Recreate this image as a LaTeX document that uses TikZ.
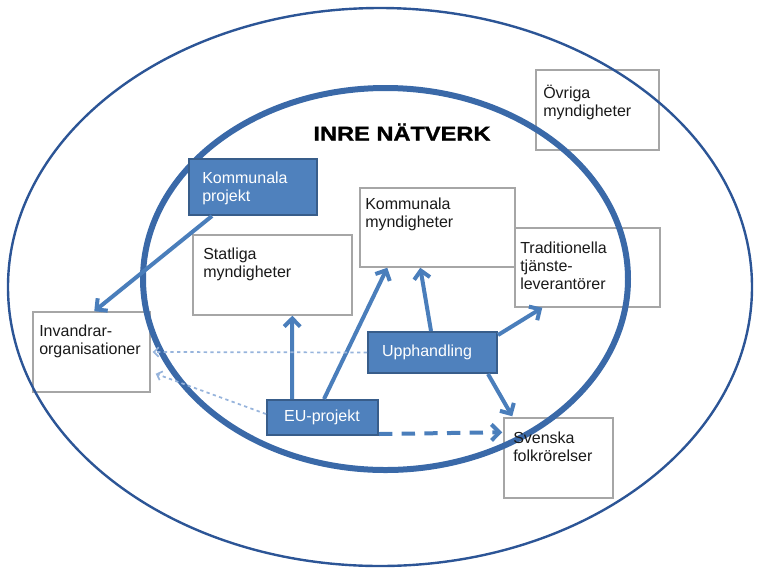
\documentclass[tikz,border=0pt]{standalone}
\usepackage{fontspec}
\setmainfont{Liberation Sans}
\newfontfamily\titlefont[FakeBold=1.2]{Liberation Sans Bold}
\usepackage{graphicx}
\usetikzlibrary{arrows.meta,calc}
\definecolor{boxgray}{HTML}{A6A6A6}
\definecolor{fillblue}{HTML}{4F81BD}
\definecolor{fillborder}{HTML}{385D8A}
\definecolor{arrowblue}{HTML}{4A7EBB}
\definecolor{innerblue}{HTML}{3A69A8}
\definecolor{outerblue}{HTML}{2C5596}
\definecolor{dotblue}{HTML}{97B4DC}
\definecolor{txt}{HTML}{1A1A1A}
\tikzset{
  wbox/.style={draw=boxgray, line width=1.1pt, fill=white, inner sep=0pt},
  bbox/.style={draw=fillborder, line width=1.5pt, fill=fillblue, inner sep=0pt},
  lbl/.style={anchor=north west, align=left, inner sep=0pt, text=txt,
    font=\fontsize{12}{13.5}\selectfont},
  wlbl/.style={lbl, text=white},
  clbl/.style={anchor=center, inner sep=0pt, text=white,
    font=\fontsize{12}{13.5}\selectfont},
  conn/.style={draw=arrowblue, line width=3pt, -{Straight Barb[length=6pt,width=12pt]}},
  dconn/.style={conn, dash pattern=on 10pt off 7pt},
  dotconn/.style={draw=dotblue, line width=1.3pt, dash pattern=on 2.5pt off 2.5pt,
    -{Straight Barb[length=3.5pt,width=7pt]}},
}
\begin{document}
\begin{tikzpicture}[x=0.75pt,y=-0.75pt]
\useasboundingbox (0,0) rectangle (757,569);
% boxes
\node[wbox, minimum width=92.25pt, minimum height=60pt] (ovr) at (597.5,110) {};
\node[wbox, minimum width=119.25pt, minimum height=60pt] (stat) at (272.5,275) {};
\node[wbox, minimum width=116.25pt, minimum height=59.25pt] (kmyn) at (437.5,227.5) {};
\node[wbox, minimum width=108.75pt, minimum height=59.25pt] (trad) at (587.5,267.5) {};
\node[wbox, minimum width=87.75pt, minimum height=60pt] (inv) at (91.5,352) {};
\node[wbox, minimum width=81.75pt, minimum height=60pt] (sv) at (558.5,458) {};
% circles
\draw[outerblue, line width=1.8pt] (380,287) ellipse [x radius=372, y radius=279];
\draw[innerblue, line width=4.5pt] (385.5,279) ellipse [x radius=242.5, y radius=191];
% filled boxes
\node[bbox, minimum width=96pt, minimum height=42pt] (kproj) at (253,187) {};
\node[bbox, minimum width=96.75pt, minimum height=30.75pt] (upph) at (432.5,352.5) {};
\node[bbox, minimum width=83.25pt, minimum height=26.25pt] (eu) at (322.5,417.5) {};
% title
\node[inner sep=0pt, font=\titlefont\fontsize{15}{18}\selectfont, text=black] (title) at (402,132) {\scalebox{1.18}[1]{INRE NÄTVERK}};
% labels
\node[lbl] (ovrT) at (543,85) {Övriga\\myndigheter};
\node[wlbl] (kprojT) at (202,172) {Kommunala\\projekt};
\node[lbl] (statT) at (203,248) {Statliga\\myndigheter};
\node[lbl] (kmynT) at (365,198) {Kommunala\\myndigheter};
\node[lbl] (tradT) at (520,242) {Traditionella\\tjänste-\\leverantörer};
\node[lbl] (invT) at (39,325) {Invandrar-\\organisationer};
\node[lbl] (svT) at (513,432) {Svenska\\folkrörelser};
\node[clbl] (upphT) at (427,352) {Upphandling};
\node[clbl] (euT) at (322,417.5) {EU-projekt};
% connectors
\draw[conn] ($(kproj.south west)+(24,0)$) -- ($(inv.north west)+(62,0)$);
\draw[conn] ($(eu.north west)+(26,0)$) -- ($(stat.south west)+(100,0)$);
\draw[conn] ($(eu.north west)+(58,0)$) -- ($(kmyn.south west)+(28,0)$);
\draw[conn] ($(upph.north west)+(64,0)$) -- ($(kmyn.south west)+(61,0)$);
\draw[conn] ($(upph.north east)+(0,4)$) -- ($(trad.south west)+(28,0)$);
\draw[conn] ($(upph.south east)+(-10,0)$) -- ($(sv.north west)+(9,-1)$);
\draw[dconn] ($(eu.south east)+(0,-2)$) -- ($(sv.north west)+(-1,15)$);
\draw[dotconn] (upph.west) -- ($(inv.east)+(2,0)$);
\draw[dotconn] ($(eu.north west)+(0,15)$) -- ($(inv.south east)+(5,-19)$);
\end{tikzpicture}
\end{document}
